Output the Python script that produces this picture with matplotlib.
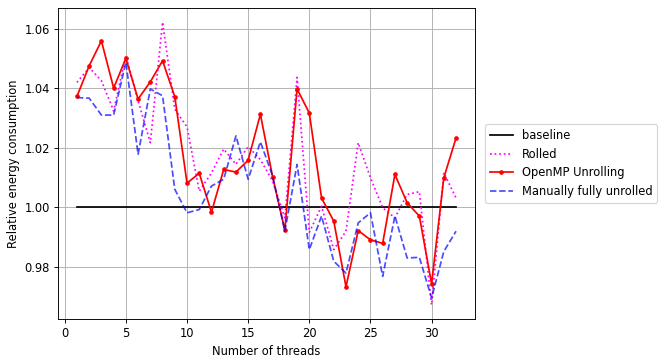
import matplotlib
matplotlib.use("Agg")
import matplotlib.pyplot as plt
import numpy as np

threads = list(range(1, 33))
baseline_x = [1, 32]
baseline_y = [1.0, 1.0]
rolled = [1.042, 1.047, 1.0426, 1.0324, 1.051, 1.0358, 1.0217, 1.0623, 1.033, 1.0270,
          1.0054, 1.0115, 1.0196, 1.0144, 1.0204, 1.016, 1.0088, 0.9964, 1.0437, 0.9915,
          1.0003, 0.9857, 0.9919, 1.0217, 1.0099, 0.9998, 0.9964, 1.0043, 1.0052, 0.9671,
          1.0116, 1.0031]
openmp = [1.0373, 1.0476, 1.056, 1.0401, 1.0501, 1.0364, 1.0422, 1.0493, 1.0372, 1.0081,
          1.0114, 0.9983, 1.0127, 1.0118, 1.0158, 1.0313, 1.0102, 0.9923, 1.0398, 1.0317,
          1.0031, 0.9953, 0.9732, 0.9921, 0.989, 0.9878, 1.011, 1.0015, 0.997, 0.9742,
          1.0099, 1.0233]
manual = [1.0369, 1.0367, 1.031, 1.031, 1.0488, 1.0178, 1.0398, 1.0375, 1.006, 0.9981,
          0.9992, 1.0071, 1.0094, 1.024, 1.0094, 1.022, 1.0105, 0.9919, 1.0144, 0.9857,
          0.997, 0.9818, 0.9778, 0.9947, 0.9981, 0.9767, 0.997, 0.9829, 0.9831, 0.9694,
          0.9851, 0.9919]

DPI = 83
fig = plt.figure(figsize=(664/DPI, 363/DPI), dpi=DPI)
ax = fig.add_axes([58/664, 1-319/363, (475-58)/664, (319-8)/363])
ax.plot(baseline_x, baseline_y, color='black', label='baseline')
ax.plot(threads, rolled, color='magenta', linestyle=':', label='Rolled')
ax.plot(threads, openmp, color='red', marker='.', label='OpenMP Unrolling')
ax.plot(threads, manual, color='blue', linestyle='--', alpha=0.7, label='Manually fully unrolled')
ax.grid(True)
ax.set_xlabel('Number of threads')
ax.set_ylabel('Relative energy consumption')
ax.set_xticks([0, 5, 10, 15, 20, 25, 30])
ax.set_yticks([0.98, 1.00, 1.02, 1.04, 1.06])
ax.legend(loc='center left', bbox_to_anchor=(1.01, 0.5))
fig.savefig('out.png', dpi=DPI)
